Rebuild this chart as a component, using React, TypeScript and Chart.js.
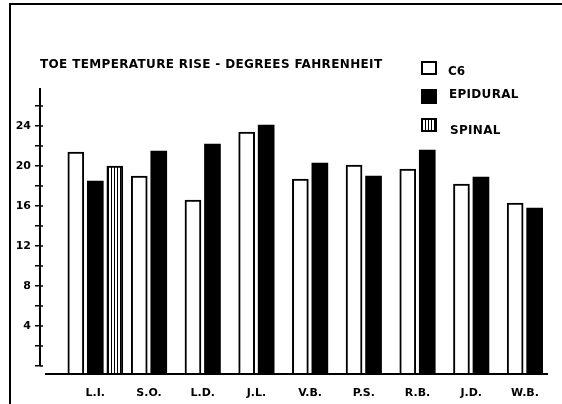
import React, { useEffect, useRef } from 'react';
import { Chart, registerables } from 'chart.js';

Chart.register(...registerables);

// ---- data ----
const categories = ['L.I.', 'S.O.', 'L.D.', 'J.L.', 'V.B.', 'P.S.', 'R.B.', 'J.D.', 'W.B.'];
const c6Values = [21.4, 19.0, 16.6, 23.4, 18.7, 20.1, 19.7, 18.2, 16.3];
const epiduralValues = [18.5, 21.5, 22.2, 24.1, 20.3, 19.0, 21.6, 18.9, 15.8];
const spinalValues: (number | null)[] = [20.0, null, null, null, null, null, null, null, null];
const seriesNames = ['C6', 'EPIDURAL', 'SPINAL'];
const yTickValues = [0, 2, 4, 6, 8, 10, 12, 14, 16, 18, 20, 22, 24, 26];
const yLabelValues = [4, 8, 12, 16, 20, 24];
const chartTitle = 'TOE TEMPERATURE RISE - DEGREES FAHRENHEIT';

// ---- axis ranges ----
const Y_MIN = -0.8;
const Y_MAX = 27.8;
const X_MIN = -1.03;
const X_MAX = 8.43;

const TICK_FONT = { family: 'DejaVu Sans', size: 11, weight: 'bold' as const };

function points(values: (number | null)[]) {
  return values.map((v, i) => ({ x: i, y: v }));
}

const axisLines = {
  id: 'axisLines',
  afterDatasetsDraw(chart: any) {
    const { ctx, chartArea, scales } = chart;
    const y = scales.y;
    ctx.save();
    ctx.strokeStyle = '#000';
    ctx.lineWidth = 2;
    ctx.beginPath();
    ctx.moveTo(chartArea.left, chartArea.top);
    ctx.lineTo(chartArea.left, y.getPixelForValue(0));
    ctx.moveTo(chartArea.left + 5, chartArea.bottom);
    ctx.lineTo(chartArea.right, chartArea.bottom);
    ctx.stroke();
    // tick marks cross the axis slightly
    ctx.lineWidth = 1.5;
    ctx.beginPath();
    y.ticks.forEach((t: any) => {
      const py = y.getPixelForValue(t.value);
      ctx.moveTo(chartArea.left, py);
      ctx.lineTo(chartArea.left + 3, py);
    });
    ctx.stroke();
    ctx.restore();
  },
};

export default function App() {
  const canvasRef = useRef<HTMLCanvasElement | null>(null);

  useEffect(() => {
    const canvas = canvasRef.current!;
    const ctx = canvas.getContext('2d')!;

    const pc = document.createElement('canvas');
    pc.width = 3;
    pc.height = 4;
    const pctx = pc.getContext('2d')!;
    pctx.fillStyle = '#fff';
    pctx.fillRect(0, 0, 3, 4);
    pctx.fillStyle = '#000';
    pctx.fillRect(0, 0, 1, 4);
    const stripes = ctx.createPattern(pc, 'repeat');

    const barGeom = { barThickness: 19.5, maxBarThickness: 16, base: Y_MIN, skipNull: true };

    const chart = new Chart(canvas, {
      type: 'bar',
      data: {
        datasets: [
          {
            label: seriesNames[0],
            data: points(c6Values),
            ...barGeom,
            backgroundColor: '#fff',
            borderColor: '#000',
            borderWidth: 2,
            borderSkipped: 'bottom',
          },
          {
            label: seriesNames[1],
            data: points(epiduralValues),
            ...barGeom,
            backgroundColor: '#000',
            borderColor: '#000',
            borderWidth: 0,
          },
          {
            label: seriesNames[2],
            data: points(spinalValues),
            ...barGeom,
            backgroundColor: stripes as any,
            borderColor: '#000',
            borderWidth: 2,
            borderSkipped: 'bottom',
          },
        ] as any,
      },
      options: {
        responsive: false,
        animation: false,
        devicePixelRatio: 1,
        layout: { padding: { top: 88, right: 14, left: 0, bottom: 0 } },
        plugins: {
          legend: { display: false },
          tooltip: { enabled: false },
          title: { display: false },
        },
        scales: {
          x: {
            type: 'linear',
            min: X_MIN,
            max: X_MAX,
            offset: false,
            afterBuildTicks: (s: any) => {
              s.ticks = categories.map((_, i) => ({ value: i }));
            },
            grid: { display: false, drawTicks: false, offset: false },
            border: { display: false },
            afterFit: (s: any) => {
              s.height = 30;
            },
            ticks: {
              autoSkip: false,
              maxRotation: 0,
              padding: 13,
              color: '#000',
              font: TICK_FONT,
              callback: (v: any) => categories[v as number] ?? '',
            },
          },
          y: {
            type: 'linear',
            min: Y_MIN,
            max: Y_MAX,
            stacked: false,
            border: { display: false },
            grid: { display: true, drawOnChartArea: false, drawTicks: true, tickLength: 5, color: '#000', lineWidth: 1.5 },
            afterBuildTicks: (s: any) => {
              s.ticks = yTickValues.map((v) => ({ value: v }));
            },
            afterFit: (s: any) => {
              s.width = 40;
            },
            ticks: {
              autoSkip: false,
              padding: 4,
              color: '#000',
              font: TICK_FONT,
              callback: (v: any) => (yLabelValues.includes(v as number) ? String(v) : ''),
            },
          },
        },
      } as any,
      plugins: [axisLines],
    });

    return () => chart.destroy();
  }, []);

  const textStyle: React.CSSProperties = {
    position: 'absolute',
    fontFamily: 'DejaVu Sans',
    fontWeight: 'bold',
    fontSize: 12,
    lineHeight: '12px',
    whiteSpace: 'nowrap',
    color: '#000',
  };
  const swatch: React.CSSProperties = { position: 'absolute', left: 421, width: 16, boxSizing: 'border-box' };

  return (
    <div style={{ position: 'fixed', left: 0, top: 0, width: 562, height: 404, background: '#fff', overflow: 'hidden' }}>
      <div style={{ position: 'absolute', left: 9, top: 3, width: 560, height: 420, borderTop: '2px solid #000', borderLeft: '2px solid #000' }} />
      <canvas ref={canvasRef} width={562} height={404} style={{ position: 'absolute', left: 0, top: 0 }} />
      <div style={{ ...textStyle, left: 40, top: 58, letterSpacing: '0.35px' }}>{chartTitle}</div>
      <div style={{ ...swatch, top: 61, height: 14, border: '2px solid #000', background: '#fff' }} />
      <div style={{ ...textStyle, left: 448, top: 65 }}>{seriesNames[0]}</div>
      <div style={{ ...swatch, top: 89, height: 15, background: '#000' }} />
      <div style={{ ...textStyle, left: 449, top: 88, letterSpacing: '0.3px' }}>{seriesNames[1]}</div>
      <div
        style={{
          ...swatch,
          top: 118,
          height: 14,
          border: '2px solid #000',
          background: 'repeating-linear-gradient(90deg, #fff 0px, #fff 2px, #000 2px, #000 3px)',
        }}
      />
      <div style={{ ...textStyle, left: 450, top: 124, letterSpacing: '0.3px' }}>{seriesNames[2]}</div>
    </div>
  );
}
